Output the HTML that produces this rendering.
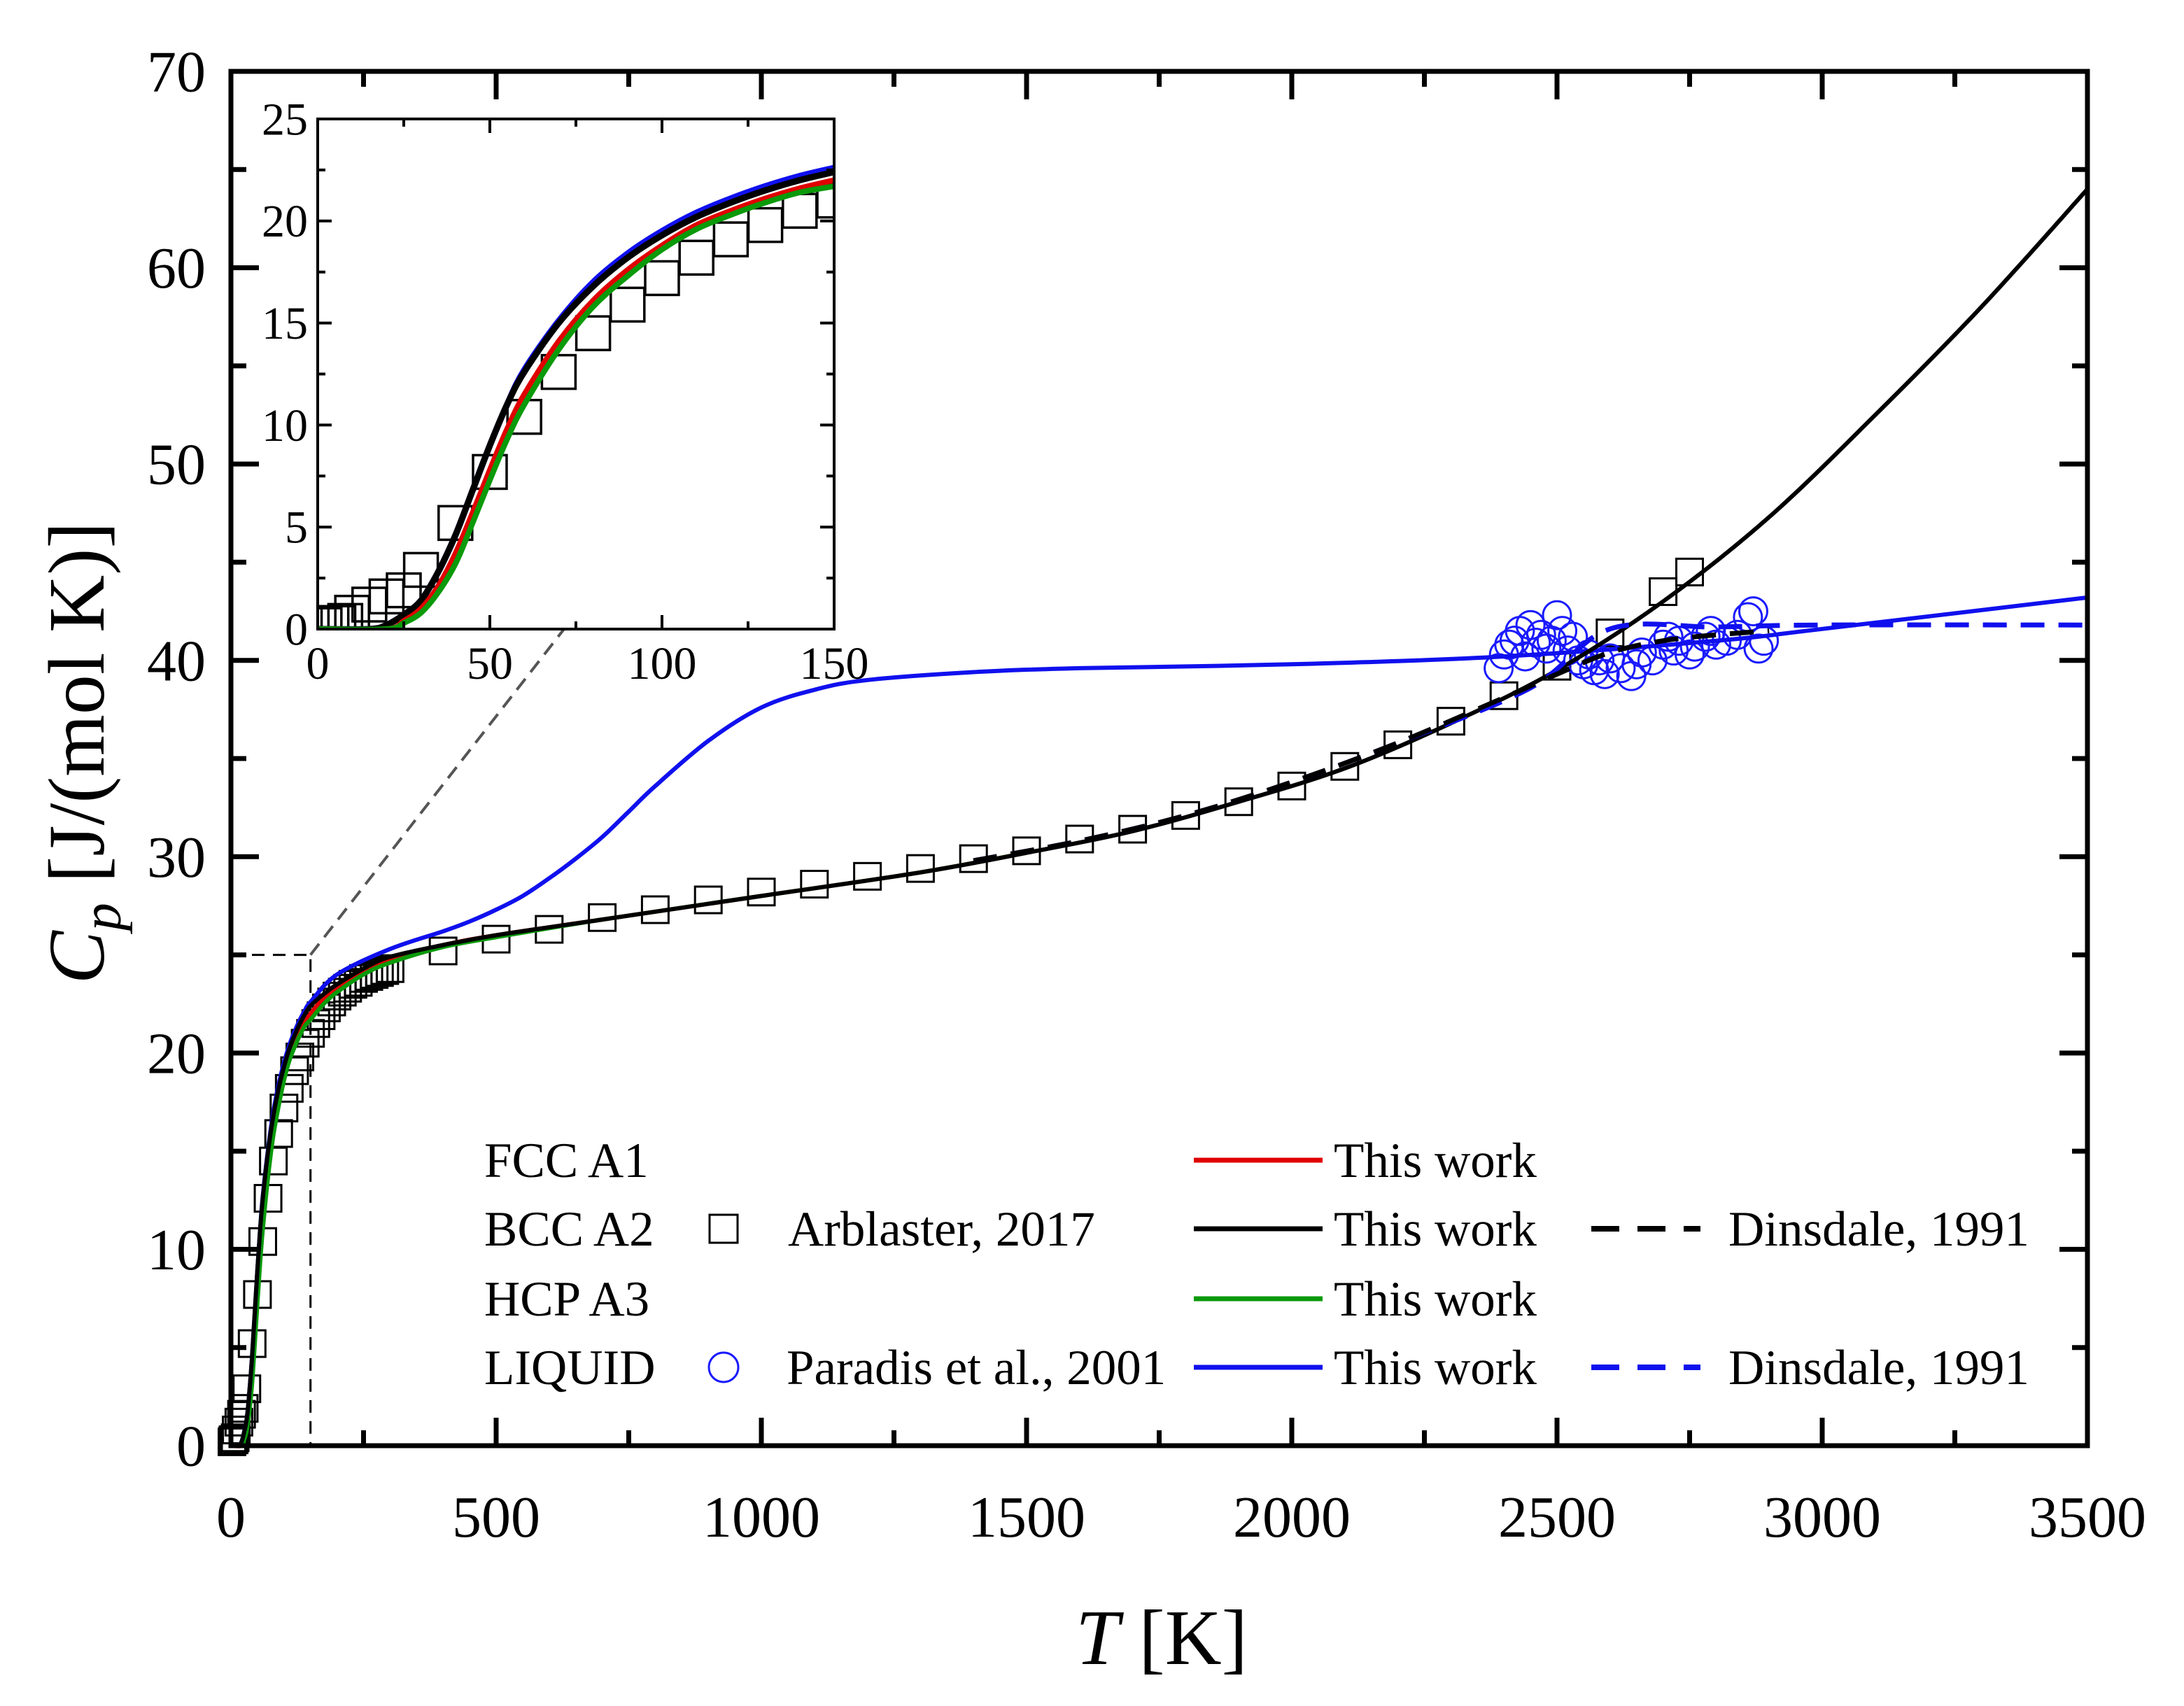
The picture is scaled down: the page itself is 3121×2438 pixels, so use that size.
<!DOCTYPE html>
<html><head><meta charset="utf-8"><style>
html,body{margin:0;padding:0;background:#fff;}
svg{display:block;font-family:"Liberation Serif",serif;}
</style></head><body>
<svg id="chart" width="3121" height="2438" viewBox="0 0 3121 2438" xmlns="http://www.w3.org/2000/svg">
<rect width="3121" height="2438" fill="#fff"/>
<g id="main"></g>
<g id="inset"></g>
<g id="legend"></g>
</svg>
<script>
// ---- data ----
const bccT = [0,15,20,25,30,35,40,45,50,55,60,70,80,90,100,110,120,130,140,150,175,200,250,300,400,500,700,1000,1300,1500,1700,1900,2100,2300,2500,2700,2900,3100,3300,3500];
const bccCp = [0,0,0.2,0.7,1.4,2.8,4.6,6.8,9.0,11.0,12.6,15.0,16.8,18.2,19.3,20.2,20.9,21.5,22.0,22.4,23.0,23.5,24.3,24.9,25.5,26.0,26.8,28.0,29.2,30.2,31.3,32.8,34.5,36.8,39.5,43.0,47.3,52.5,58.0,64.0];
const fccT = [0,20,25,30,35,40,45,50,55,60,70,80,90,100,110,120,130,140,150,175,200,250,300,400,500,700,1000,1300,1500];
const fccCp = [0,0,0.4,1.0,2.1,3.7,5.7,7.8,9.8,11.5,14.1,16.1,17.6,18.8,19.8,20.5,21.1,21.6,22.0,22.8,23.3,24.2,24.8,25.5,26.0,26.8,28.0,29.2,30.2];
const hcpT = [0,20,25,30,35,40,45,50,55,60,70,80,90,100,110,120,130,140,150,175,200,250,300,400,500,700,1000,1300,1500];
const hcpCp = [0,0,0.3,0.8,1.8,3.2,5.2,7.3,9.3,11.0,13.7,15.8,17.3,18.6,19.6,20.3,20.9,21.4,21.7,22.5,23.1,24.0,24.6,25.4,25.9,26.8,28.0,29.2,30.2];
const liqT = [0,15,20,25,30,35,40,45,50,55,60,70,80,90,100,110,120,130,140,150,200,300,400,450,500,550,600,650,700,750,800,900,1000,1100,1200,1400,1600,2000,2400,2800,3000,3500];
const liqCp = [0,0,0.2,0.7,1.4,2.8,4.6,6.8,9.0,11.0,12.7,15.1,17.0,18.4,19.5,20.4,21.1,21.7,22.2,22.6,24.0,25.3,26.2,26.7,27.3,28.0,28.9,29.9,31.0,32.3,33.6,35.9,37.6,38.5,39.0,39.4,39.6,39.8,40.2,41.0,41.6,43.2];
const dinBccT = [1400,1600,1800,2000,2200,2400,2500,2600,2700,2800,2900];
const dinBccCp = [29.8,30.8,32.1,33.8,35.8,38.1,39.3,40.4,41.0,41.3,41.5];
const dinLiqT = [1400,1600,1800,2000,2200,2450,2600,2800,3000,3500];
const dinLiqCp = [29.8,30.8,32.1,33.8,35.8,38.6,41.6,41.7,41.8,41.8];
const arbT = [2,4,6,8,10,15,20,25,30,40,50,60,70,80,90,100,110,120,130,140,150,160,170,180,190,200,210,220,230,240,250,260,270,280,290,300,400,500,600,700,800,900,1000,1100,1200,1300,1400,1500,1600,1700,1800,1900,2000,2100,2200,2300,2400,2500,2600,2700,2750];
const arbCp = [0.2,0.3,0.3,0.4,0.8,1.2,1.6,1.9,2.9,5.2,7.7,10.4,12.6,14.5,15.9,17.2,18.2,19.1,19.8,20.5,21.0,21.5,21.9,22.3,22.6,22.9,23.1,23.3,23.5,23.6,23.8,23.9,24.0,24.1,24.2,24.3,25.2,25.8,26.3,26.9,27.3,27.8,28.2,28.6,29.0,29.4,29.9,30.3,30.9,31.4,32.1,32.8,33.6,34.6,35.7,36.9,38.2,39.7,41.4,43.5,44.5];
const parT = [2390,2400,2410,2420,2430,2440,2450,2460,2470,2480,2490,2500,2510,2520,2530,2540,2550,2560,2570,2580,2590,2600,2620,2640,2650,2660,2680,2700,2710,2720,2730,2750,2760,2780,2790,2800,2820,2840,2860,2870,2880,2890];
const parCp = [39.6,40.3,40.8,41.0,41.5,40.2,41.8,40.9,41.3,40.6,41.0,42.3,41.5,40.5,41.2,40.0,39.8,40.3,39.5,40.0,39.3,40.1,39.6,39.2,39.8,40.4,40.0,40.8,41.2,40.5,41.0,40.3,40.7,41.2,41.5,40.8,41.0,41.3,42.2,42.5,40.6,41.0];
const mainXTicks = [0,500,1000,1500,2000,2500,3000,3500];
const mainYTicks = [0,10,20,30,40,50,60,70];
const insetXTicks = [0,50,100,150];
const insetYTicks = [0,5,10,15,20,25];

const NS="http://www.w3.org/2000/svg";
function mk(tag,attrs,parent){const e=document.createElementNS(NS,tag);for(const k in attrs)e.setAttribute(k,attrs[k]);parent.appendChild(e);return e;}

function makeAxes(L,R,T,B,xmin,xmax,ymin,ymax){
  return {x:v=>L+(v-xmin)/(xmax-xmin)*(R-L), y:v=>B-(v-ymin)/(ymax-ymin)*(B-T), L,R,T,B,xmin,xmax,ymin,ymax};
}
function linePath(ax,xs,ys){
  const P=[];
  for(let i=0;i<xs.length;i++){
    if(xs[i]<ax.xmin||xs[i]>ax.xmax) continue;
    P.push([ax.x(xs[i]),ax.y(ys[i])]);
  }
  if(!P.length) return "";
  let d="M"+P[0][0].toFixed(1)+","+P[0][1].toFixed(1);
  for(let i=0;i<P.length-1;i++){
    const p0=P[Math.max(0,i-1)],p1=P[i],p2=P[i+1],p3=P[Math.min(P.length-1,i+2)];
    const c1=[p1[0]+(p2[0]-p0[0])/6,p1[1]+(p2[1]-p0[1])/6];
    const c2=[p2[0]-(p3[0]-p1[0])/6,p2[1]-(p3[1]-p1[1])/6];
    d+=`C${c1[0].toFixed(1)},${c1[1].toFixed(1)} ${c2[0].toFixed(1)},${c2[1].toFixed(1)} ${p2[0].toFixed(1)},${p2[1].toFixed(1)}`;
  }
  return d;
}

const gm=document.getElementById('main');
const gi=document.getElementById('inset');
const gl=document.getElementById('legend');
const M=makeAxes(330,2983,102,2066,0,3500,0,70);
const I=makeAxes(454,1192,170,899,0,150,0,25);

let e;
e=mk('path',{d:`M${M.x(0)},${M.y(25)}H${M.x(150)}V${M.y(0)}`,fill:'none',stroke:'#000','stroke-width':3,'stroke-dasharray':'18,12'},gm);


e=mk('line',{x1:M.x(150),y1:M.y(25),x2:806,y2:899,stroke:'#555','stroke-width':4,'stroke-dasharray':'20,12'},gm);



arbT.forEach((t,i)=>{
  const s=38;
  const r=mk('rect',{x:M.x(t)-s/2,y:M.y(arbCp[i])-s/2,width:s,height:s,fill:'none',stroke:'#000','stroke-width':3},gm);
  
  
});
parT.forEach((t,i)=>{
  const c=mk('circle',{cx:M.x(t),cy:M.y(parCp[i]),r:20,fill:'none',stroke:'#1a1aff','stroke-width':3},gm);
  
  
});
function series(ax,g,xs,ys,color,w,dash,name){
  const p=mk('path',{d:linePath(ax,xs,ys),fill:'none',stroke:color,'stroke-width':w,'stroke-linejoin':'round'},g);
  if(dash)p.setAttribute('stroke-dasharray',dash);
  
  
}
series(M,gm,fccT,fccCp,'#e00000',6,null,'fcc-this-work-line');
series(M,gm,hcpT,hcpCp,'#0a9a0a',6,null,'hcp-this-work-line');
series(M,gm,liqT,liqCp,'#1010ee',6,null,'liquid-this-work-line');
series(M,gm,bccT,bccCp,'#000',6,null,'bcc-this-work-line');
series(M,gm,dinLiqT,dinLiqCp,'#1010ee',7,'34,20','liquid-dinsdale-line');
series(M,gm,dinBccT,dinBccCp,'#000',7,'34,20','bcc-dinsdale-line');

function frame(ax,g,xt,yt,xMinorStep,yMinorStep,major,minor,sw,fs,xlabY,ylabX,prefix){
  const f=mk('rect',{x:ax.L,y:ax.T,width:ax.R-ax.L,height:ax.B-ax.T,fill:'none',stroke:'#000','stroke-width':sw},g);
  
  
  let d="";
  for(let v=ax.xmin;v<=ax.xmax+1e-9;v+=xMinorStep){
    const isMaj=xt.some(t=>Math.abs(t-v)<1e-6);const len=isMaj?major:minor;const x=ax.x(v);
    d+=`M${x},${ax.B}v${-len}M${x},${ax.T}v${len}`;
  }
  for(let v=ax.ymin;v<=ax.ymax+1e-9;v+=yMinorStep){
    const isMaj=yt.some(t=>Math.abs(t-v)<1e-6);const len=isMaj?major:minor;const y=ax.y(v);
    d+=`M${ax.L},${y}h${len}M${ax.R},${y}h${-len}`;
  }
  const tk=mk('path',{d,stroke:'#000','stroke-width':sw,fill:'none'},g);
  
  
  xt.forEach(v=>{const t=mk('text',{x:ax.x(v),y:xlabY,'font-size':fs,'text-anchor':'middle',fill:'#000'},g);t.textContent=v;
    
    });
  yt.forEach(v=>{const t=mk('text',{x:ylabX,y:ax.y(v)+fs*0.34,'font-size':fs,'text-anchor':'end',fill:'#000'},g);t.textContent=v;
    
    });
}

const ib=mk('rect',{x:I.L,y:I.T,width:I.R-I.L,height:I.B-I.T,fill:'#fff'},gi);


const clip=mk('clipPath',{id:'ic'},gi);mk('rect',{x:I.L,y:I.T,width:I.R-I.L,height:I.B-I.T},clip);
const gic=mk('g',{'clip-path':'url(#ic)'},gi);


arbT.forEach((t,i)=>{
  if(t>152)return;
  const s=48;
  const r=mk('rect',{x:I.x(t)-s/2,y:I.y(arbCp[i])-s/2,width:s,height:s,fill:'none',stroke:'#000','stroke-width':3.5},gic);
  
  
});
series(I,gic,liqT,liqCp,'#1010ee',9,null,'inset-liquid-line');
series(I,gic,bccT,bccCp,'#000',9,null,'inset-bcc-line');
series(I,gic,fccT,fccCp,'#e00000',8,null,'inset-fcc-line');
series(I,gic,hcpT,hcpCp,'#0a9a0a',8,null,'inset-hcp-line');

frame(M,gm,mainXTicks,mainYTicks,250,5,40,22,7,84,2196,294,'main-');
frame(I,gi,insetXTicks,insetYTicks,25,2.5,20,11,4,66,970,440,'inset-');

let t=mk('text',{x:1660,y:2378,'font-size':112,'text-anchor':'middle',fill:'#000'},gm);
t.innerHTML='<tspan font-style="italic">T</tspan> [K]';


t=mk('text',{x:0,y:0,'font-size':114,'text-anchor':'middle',fill:'#000',transform:'translate(148,1076) rotate(-90)'},gm);
t.innerHTML='<tspan font-style="italic">C</tspan><tspan font-style="italic" font-size="80" dy="24">p</tspan><tspan dy="-24"> [J/(mol K)]</tspan>';



const rows=[1658,1756,1856,1954];
const phases=['FCC A1','BCC A2','HCP A3','LIQUID'];
const fsL=71;
phases.forEach((p,i)=>{const x=mk('text',{x:692,y:rows[i]+24,'font-size':fsL,fill:'#000'},gl);x.textContent=p;
  
  });
let r=mk('rect',{x:1014,y:rows[1]-20,width:40,height:40,fill:'none',stroke:'#000','stroke-width':3},gl);


t=mk('text',{x:1126,y:rows[1]+24,'font-size':fsL,fill:'#000'},gl);t.textContent='Arblaster, 2017';


let c=mk('circle',{cx:1034,cy:rows[3],r:21,fill:'none',stroke:'#1a1aff','stroke-width':3},gl);


t=mk('text',{x:1124,y:rows[3]+24,'font-size':fsL,fill:'#000'},gl);t.textContent='Paradis et al., 2001';


const cols=['#e00000','#000','#0a9a0a','#1010ee'];
cols.forEach((col,i)=>{
  const l=mk('line',{x1:1706,x2:1890,y1:rows[i],y2:rows[i],stroke:col,'stroke-width':7},gl);
  
  
  const x=mk('text',{x:1906,y:rows[i]+24,'font-size':fsL,fill:'#000'},gl);x.textContent='This work';
  
  
});
[[1,'#000'],[3,'#1010ee']].forEach(([i,col])=>{
  const l=mk('line',{x1:2274,x2:2430,y1:rows[i],y2:rows[i],stroke:col,'stroke-width':8,'stroke-dasharray':'40,26'},gl);
  
  
  const x=mk('text',{x:2470,y:rows[i]+24,'font-size':fsL,fill:'#000'},gl);x.textContent='Dinsdale, 1991';
  
  
});
</script>
</body></html>
